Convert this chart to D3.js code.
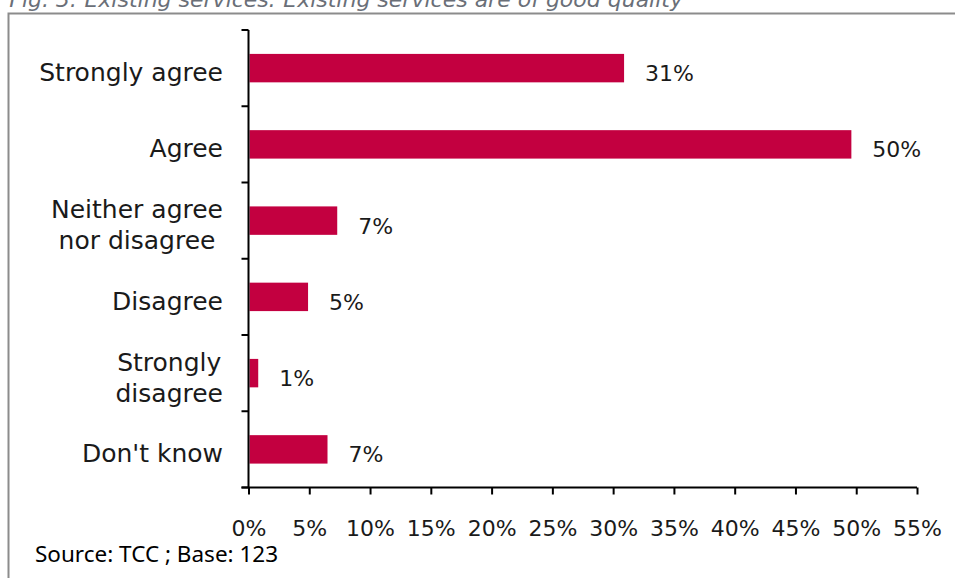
<!DOCTYPE html>
<html>
<head>
<meta charset="utf-8">
<script src="https://cdn.jsdelivr.net/npm/d3@7"></script>
<style>
  html, body { margin: 0; padding: 0; background: #fff; overflow: hidden; }
  svg { display: block; }
</style>
</head>
<body>
<svg id="chart" width="955" height="578"></svg>
<script>
// Survey responses: "Existing services are of good quality" (share of 123 respondents)
const categories = [
  ["Strongly agree"],
  ["Agree"],
  ["Neither agree", "nor disagree"],
  ["Disagree"],
  ["Strongly", "disagree"],
  ["Don't know"]
];
const shares = [0.309, 0.496, 0.073, 0.049, 0.008, 0.065];
const xTicks = [0, 0.05, 0.10, 0.15, 0.20, 0.25, 0.30, 0.35, 0.40, 0.45, 0.50, 0.55];
const titleText = "Fig. 3: Existing services: Existing services are of good quality";
const sourceText = "Source: TCC ; Base: 123";

const rows = categories.map((lines, i) => ({ key: lines.join(" "), lines, value: shares[i] }));

const svg = d3.select("#chart");
const labelFont = "'DejaVu Sans', sans-serif";
const barColor = "#c30040";
const inkColor = "#1a1a1a";

const plot = { left: 248.5, right: 917, top: 30, bottom: 487.5 };

const x = d3.scaleLinear().domain([0, 0.55]).range([plot.left, plot.right]);
const y = d3.scaleBand()
  .domain(rows.map(d => d.key))
  .range([plot.top, plot.bottom])
  .paddingInner(0.627)
  .paddingOuter(0.3135);

// Title (sits partly above the frame)
svg.append("text")
  .attr("x", 683).attr("y", 7)
  .attr("text-anchor", "end")
  .attr("font-family", labelFont)
  .attr("font-style", "italic")
  .attr("font-size", 22)
  .attr("fill", "#6a6f78")
  .text(titleText);

// Frame around the chart
svg.append("rect")
  .attr("x", 8.5).attr("y", 13.5)
  .attr("width", 960).attr("height", 580)
  .attr("fill", "none")
  .attr("stroke", "#8c8c8c")
  .attr("stroke-width", 2);

// Bars
svg.append("g")
  .selectAll("rect")
  .data(rows)
  .join("rect")
  .attr("x", x(0) + 1)
  .attr("y", d => y(d.key))
  .attr("width", d => x(d.value) - x(0) - 1)
  .attr("height", y.bandwidth())
  .attr("fill", barColor);

// Y axis: line with outward ticks at the band boundaries
const bandEdges = rows.map(d => y(d.key) - y.step() * y.paddingInner() / 2)
  .map((v, i) => i === 0 ? plot.top : v)
  .concat([plot.bottom]);
const yAxisG = svg.append("g");
yAxisG.append("line")
  .attr("x1", plot.left).attr("x2", plot.left)
  .attr("y1", plot.top).attr("y2", plot.bottom)
  .attr("stroke", "#000").attr("stroke-width", 2);
yAxisG.selectAll("line.tick")
  .data(bandEdges)
  .join("line")
  .attr("class", "tick")
  .attr("x1", plot.left - 7).attr("x2", plot.left)
  .attr("y1", d => d).attr("y2", d => d)
  .attr("stroke", "#000").attr("stroke-width", 2);

// X axis
const xAxis = d3.axisBottom(x)
  .tickValues(xTicks)
  .tickFormat(d3.format(".0%"))
  .tickSize(7)
  .tickSizeOuter(0)
  .tickPadding(26);
const xAxisG = svg.append("g")
  .attr("transform", `translate(0,${plot.bottom})`)
  .call(xAxis);
xAxisG.select(".domain")
  .attr("d", `M${plot.left - 7},0H${plot.right}`)
  .attr("stroke", "#000").attr("stroke-width", 2);
xAxisG.selectAll(".tick line").attr("stroke", "#000").attr("stroke-width", 2);
xAxisG.selectAll(".tick text")
  .attr("font-family", labelFont)
  .attr("font-size", 22)
  .attr("fill", inkColor);

// Category labels (multi-line labels are centred within a right-aligned block)
const catG = svg.append("g")
  .attr("font-family", labelFont)
  .attr("font-size", 25)
  .attr("fill", inkColor);
const labelRight = 223;
const lineGap = 31;
rows.forEach(d => {
  const cy = y(d.key) + y.bandwidth() / 2;
  const n = d.lines.length;
  const t = catG.append("text").attr("text-anchor", "middle");
  const spans = d.lines.map((line, i) =>
    t.append("tspan")
      .attr("y", cy + 13 + (i - (n - 1) / 2) * lineGap)
      .text(line));
  const widest = d3.max(spans, s => s.node().getComputedTextLength());
  spans.forEach(s => s.attr("x", labelRight - widest / 2));
});

// Value labels beside each bar
svg.append("g")
  .selectAll("text")
  .data(rows)
  .join("text")
  .attr("x", d => x(d.value) + 21)
  .attr("y", d => y(d.key) + y.bandwidth() / 2 + 13)
  .attr("font-family", labelFont)
  .attr("font-size", 22)
  .attr("fill", inkColor)
  .text(d => d3.format(".0%")(d.value));

// Source note
svg.append("text")
  .attr("x", 35).attr("y", 562)
  .attr("font-family", "'Noto Sans', 'Open Sans', sans-serif")
  .attr("font-size", 22.5)
  .attr("fill", "#000")
  .text(sourceText);
</script>
</body>
</html>
